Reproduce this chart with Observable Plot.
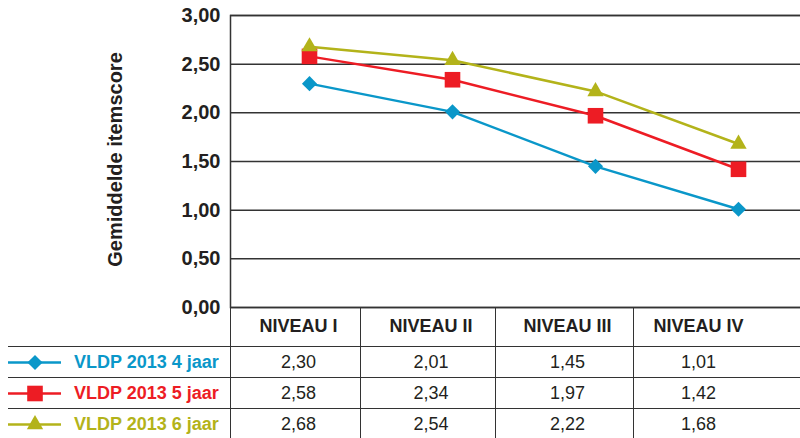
<!DOCTYPE html>
<html>
<head>
<meta charset="utf-8">
<script src="https://cdn.jsdelivr.net/npm/d3@7"></script>
<script src="https://cdn.jsdelivr.net/npm/@observablehq/plot@0.6"></script>
<style>
  html, body { margin: 0; padding: 0; background: #fff; }
  #wrap { position: relative; width: 800px; height: 438px; overflow: hidden; font-family: "Liberation Sans", Arial, sans-serif; color: #231f20; }
  #chart { position: absolute; left: 0; top: 0; }
  #table { position: absolute; left: 8px; top: 307px; display: grid;
    grid-template-columns: 222px 130px 135px 138px 167px;
    grid-template-rows: 39px 31px 31px 31px; }
  .cell { box-sizing: border-box; display: flex; align-items: center; justify-content: center; font-size: 18px; white-space: nowrap; }
  .hdr { font-weight: bold; font-size: 18px; padding-left: 6px; }
  .val { padding-left: 6px; }
  .bl { border-left: 1.5px solid #333; }
  .bt { border-top: 1.5px solid #333; }
  .last { padding-right: 37px; padding-left: 0; }
  .leg { justify-content: flex-start; font-weight: bold; font-size: 18px; }
  .leg svg { display: block; }
  .leg span { margin-left: 13px; }
</style>
</head>
<body>
<div id="wrap">
  <div id="chart"></div>
  <div id="table"></div>
</div>
<script>
// ---- data ----
const levels = ["NIVEAU I", "NIVEAU II", "NIVEAU III", "NIVEAU IV"];
const seriesNames = ["VLDP 2013 4 jaar", "VLDP 2013 5 jaar", "VLDP 2013 6 jaar"];
const vals4 = [2.30, 2.01, 1.45, 1.01];
const vals5 = [2.58, 2.34, 1.97, 1.42];
const vals6 = [2.68, 2.54, 2.22, 1.68];
const yTicks = [0, 0.5, 1, 1.5, 2, 2.5, 3];
const yLabel = "Gemiddelde itemscore";

// ---- styles ----
const colors = ["#0a97c9", "#ed1c24", "#b3b31a"];
const symbols = ["diamond2", "square", "triangle2"];
const radii = [6.8, 8.8, 7.8];

const seriesVals = [vals4, vals5, vals6];
const data = seriesNames.flatMap((s, i) => levels.map((l, j) => ({series: s, level: l, value: seriesVals[i][j]})));
const fmt = v => d3.format(".2f")(v).replace(".", ",");

const chart = Plot.plot({
  width: 800,
  height: 309,
  marginLeft: 230,
  marginRight: 0,
  marginTop: 15,
  marginBottom: 2,
  style: {fontFamily: "'Liberation Sans', Arial, sans-serif", color: "#231f20", background: "#fff", overflow: "visible"},
  x: {type: "point", domain: levels, range: [308, 738], padding: 0, axis: null},
  y: {domain: [0, 3], axis: null},
  color: {domain: seriesNames, range: colors},
  symbol: {domain: seriesNames, range: symbols},
  marks: [
    Plot.ruleY(yTicks, {stroke: "#333", strokeWidth: 1.5}),
    Plot.frame({stroke: "#333", strokeWidth: 1.5, insetRight: -3}),
    Plot.axisY({ticks: yTicks, tickFormat: fmt, tickSize: 0, tickPadding: 10, fontWeight: "bold", fontSize: 20, label: null}),
    Plot.text([yLabel], {frameAnchor: "left", textAnchor: "middle", lineAnchor: "middle", rotate: -90, dx: -115, dy: -2, fontSize: 20, fontWeight: "bold", fill: "#231f20"}),
    Plot.line(data, {x: "level", y: "value", z: "series", stroke: "series", strokeWidth: 2.5}),
    ...seriesNames.map((s, i) => Plot.dot(data.filter(d => d.series === s), {x: "level", y: "value", symbol: "series", fill: "series", r: radii[i]}))
  ]
});
document.getElementById("chart").appendChild(chart);

// ---- data table ----
const table = document.getElementById("table");
function cell(cls, content) {
  const d = document.createElement("div");
  d.className = "cell " + cls;
  if (typeof content === "string") d.textContent = content; else if (content) d.appendChild(content);
  table.appendChild(d);
  return d;
}
cell("", "");
levels.forEach((l, j) => cell("hdr bl" + (j === 3 ? " last" : ""), l));
seriesNames.forEach((s, i) => {
  const swatch = Plot.plot({
    width: 53, height: 28, margin: 0,
    x: {domain: [0, 1], axis: null}, y: {domain: [0, 1], axis: null},
    color: {domain: seriesNames, range: colors},
    symbol: {domain: seriesNames, range: symbols},
    style: {background: "transparent", overflow: "visible"},
    marks: [
      Plot.ruleY([s], {y: () => 0.5, stroke: () => s, strokeWidth: 2.5}),
      Plot.dot([s], {frameAnchor: "middle", fill: d => d, symbol: d => d, r: radii[i]})
    ]
  });
  const leg = document.createElement("div");
  leg.style.display = "flex"; leg.style.alignItems = "center";
  leg.appendChild(swatch);
  const lab = document.createElement("span");
  lab.textContent = s;
  lab.style.color = colors[i];
  leg.appendChild(lab);
  cell("leg bt", leg);
  seriesVals[i].forEach((v, j) => cell("val bl bt" + (j === 3 ? " last" : ""), fmt(v)));
});
</script>
</body>
</html>
